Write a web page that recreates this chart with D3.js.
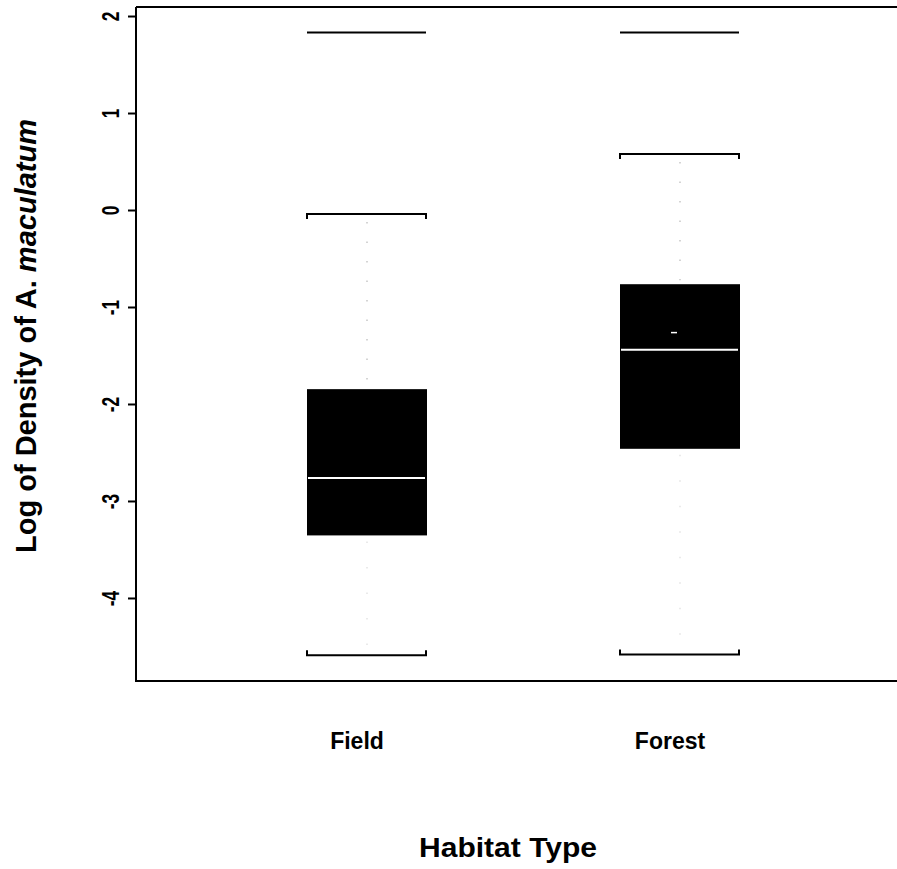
<!DOCTYPE html>
<html><head><meta charset="utf-8">
<script src="https://cdn.jsdelivr.net/npm/d3@7"></script>
<style>
html,body{margin:0;padding:0;background:#fff;}
svg{display:block;font-family:"Liberation Sans",Arial,sans-serif;}
</style></head>
<body>
<svg id="c" width="897" height="869"></svg>
<script>
// ---- data ----
const categories = ["Field", "Forest"];
const outlierHigh = [1.831, 1.831];
const upperWhisker = [-0.041, 0.577];
const q3 = [-1.847, -0.765];
const median = [-2.764, -1.442];
const q1 = [-3.355, -2.462];
const lowerWhisker = [-4.59, -4.584];
const means = [null, -1.264];
const yTicks = [2, 1, 0, -1, -2, -3, -4];
const yTickLabels = ["2", "1", "0", "-1", "-2", "-3", "-4"];
const xTitle = "Habitat Type";
const yTitleParts = ["Log of Density of ", "A. ", "maculatum"];

(function () {
const svg = d3.select("#c");
const pL = 136, pR = 897, pT = 7, pB = 681;
const y = d3.scaleLinear().domain([-4.856, 2.093]).range([pB, pT]);
const x = d3.scalePoint().domain(categories).range([367, 680]);
const boxW = 120;

// frame top
svg.append("line").attr("x1", pL).attr("x2", pR + 5).attr("y1", pT).attr("y2", pT)
  .attr("stroke", "#000").attr("stroke-width", 2);

// y axis
const yAxis = d3.axisLeft(y).tickValues(yTicks).tickSize(8).tickPadding(6)
  .tickFormat((d, i) => yTickLabels[i]);
const gy = svg.append("g").attr("transform", `translate(${pL},0)`).call(yAxis);
gy.select(".domain").attr("d", `M0,${pT}V${pB}`).attr("stroke-width", 2);
gy.selectAll(".tick line").attr("stroke-width", 2);
gy.selectAll(".tick text")
  .attr("font-size", 24).attr("font-weight", "bold").attr("fill", "#000")
  .attr("text-anchor", "middle")
  .attr("dy", 0).attr("x", 0).attr("y", 0)
  .attr("transform", "translate(-17,0) rotate(-90) scale(0.72,1)");

// bottom line
svg.append("line").attr("x1", pL - 1).attr("x2", pR + 5).attr("y1", pB).attr("y2", pB)
  .attr("stroke", "#000").attr("stroke-width", 2);

const idx = categories.map((c, i) => i);
const g = svg.append("g");

// dotted whiskers (very faint in the original)
idx.forEach(i => {
  const cx = x(categories[i]);
  g.append("line").attr("x1", cx).attr("x2", cx).attr("y1", y(upperWhisker[i]) + 8).attr("y2", y(q3[i]) - 4)
    .attr("stroke", "#b8b8b8").attr("stroke-width", 1.2).attr("stroke-dasharray", "1.5,18");
  g.append("line").attr("x1", cx).attr("x2", cx).attr("y1", y(q1[i]) + 6).attr("y2", y(lowerWhisker[i]) - 8)
    .attr("stroke", "#dcdcdc").attr("stroke-width", 1.2).attr("stroke-dasharray", "1.5,24");
});

// boxes
g.selectAll("rect.box").data(idx).join("rect").attr("class", "box")
  .attr("x", i => x(categories[i]) - boxW / 2).attr("width", boxW)
  .attr("y", i => y(q3[i])).attr("height", i => y(q1[i]) - y(q3[i]))
  .attr("fill", "#000");

// medians
g.selectAll("line.med").data(idx).join("line").attr("class", "med")
  .attr("x1", i => x(categories[i]) - boxW / 2 + 1).attr("x2", i => x(categories[i]) + boxW / 2 - 2)
  .attr("y1", i => y(median[i])).attr("y2", i => y(median[i]))
  .attr("stroke", "#fff").attr("stroke-width", 2);

// means
g.selectAll("line.mean").data(idx.filter(i => means[i] !== null)).join("line").attr("class", "mean")
  .attr("x1", i => x(categories[i]) - 9).attr("x2", i => x(categories[i]) - 3)
  .attr("y1", i => y(means[i])).attr("y2", i => y(means[i]))
  .attr("stroke", "#fff").attr("stroke-width", 1.5);

// whisker caps (brackets) and high outliers
idx.forEach(i => {
  const cx = x(categories[i]);
  const x0 = cx - boxW / 2, x1 = cx + boxW / 2 - 1;
  const yu = y(upperWhisker[i]);
  g.append("path").attr("d", `M${x0},${yu + 5}V${yu}H${x1}V${yu + 5}`)
    .attr("fill", "none").attr("stroke", "#000").attr("stroke-width", 2);
  const yl = y(lowerWhisker[i]);
  g.append("path").attr("d", `M${x0},${yl - 5}V${yl}H${x1}V${yl - 5}`)
    .attr("fill", "none").attr("stroke", "#000").attr("stroke-width", 2);
  const yo = y(outlierHigh[i]);
  g.append("line").attr("x1", x0).attr("x2", x1).attr("y1", yo).attr("y2", yo)
    .attr("stroke", "#000").attr("stroke-width", 2);
});

// category labels
svg.selectAll("text.cat").data(categories).join("text").attr("class", "cat")
  .attr("x", d => x(d) - 10).attr("y", 749)
  .attr("text-anchor", "middle").attr("font-size", 23).attr("font-weight", "bold").attr("fill", "#000")
  .text(d => d);

// x title
svg.append("text").attr("x", 508).attr("y", 857).attr("text-anchor", "middle")
  .attr("font-size", 27).attr("font-weight", "bold").attr("fill", "#000")
  .attr("textLength", 178).attr("lengthAdjust", "spacingAndGlyphs")
  .text(xTitle);

// y title
const yt = svg.append("text").attr("transform", "translate(36,336) rotate(-90)")
  .attr("text-anchor", "middle").attr("font-size", 29).attr("font-weight", "bold").attr("fill", "#000");
yt.append("tspan").text(yTitleParts[0]);
yt.append("tspan").text(yTitleParts[1]);
yt.append("tspan").attr("font-style", "italic").text(yTitleParts[2]);
})();
</script>
</body></html>
